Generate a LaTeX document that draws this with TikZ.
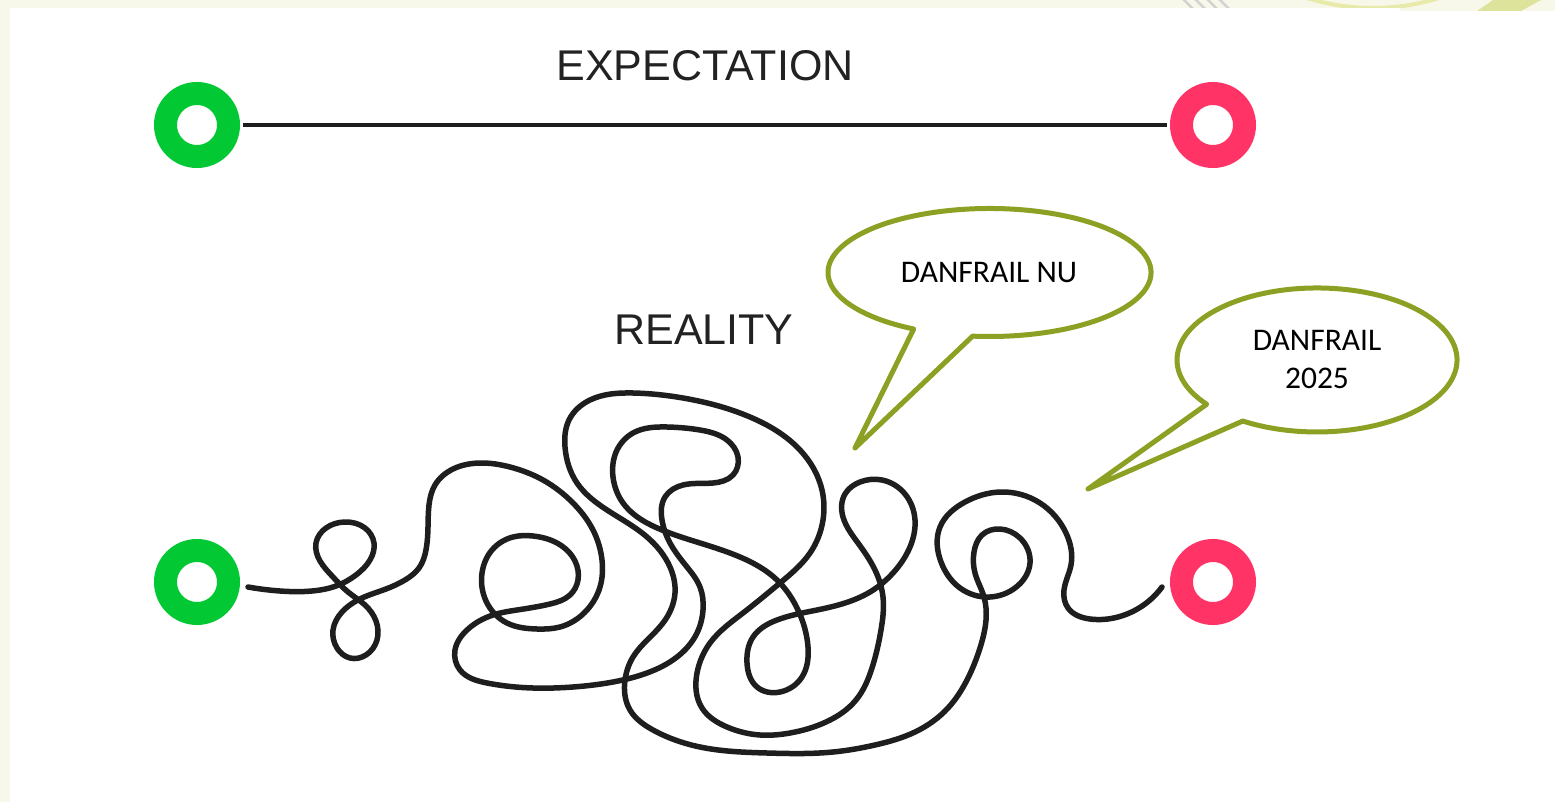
\documentclass[tikz,border=0pt]{standalone}
\usepackage{fontspec}
\usetikzlibrary{hobby}
\newfontfamily\arialf{Liberation Sans}
\newfontfamily\calibf{Carlito}
\definecolor{cream}{RGB}{247,248,234}
\definecolor{deco}{RGB}{231,234,168}
\definecolor{ringgreen}{RGB}{2,201,51}
\definecolor{ringpink}{RGB}{255,51,102}
\definecolor{inkline}{RGB}{30,30,30}
\definecolor{olive}{RGB}{140,161,36}
\definecolor{titlegray}{RGB}{34,34,34}
\begin{document}
\begin{tikzpicture}[x=1pt,y=-1pt,
  ringnode/.style={circle,draw=#1,line width=23pt,minimum size=63pt,inner sep=0pt,fill=white},
  titletext/.style={font=\arialf\fontsize{43}{43}\selectfont,text=titlegray,inner sep=0pt},
  bubbletext/.style={font=\calibf\fontsize{31.5}{38}\selectfont,text=black,inner sep=0pt,align=center},
  bubble/.style={draw=olive,line width=5pt,fill=white,line join=round},
  tangle/.style={draw=inkline,line width=5.5pt,line cap=round,line join=round}]
\useasboundingbox (0,0) rectangle (1555,802);
\fill[cream] (0,0) rectangle (1555,802);
% faint decorations in the top band
\begin{scope}
\clip (0,0) rectangle (1555,12);
\draw[deco,line width=4pt] (1373,-213) circle[radius=221];
\fill[deco!90!olive] (1477,11) -- (1493,0) -- (1541,0) -- (1521,11) -- cycle;
\foreach \k in {0,1,2,3}{\draw[gray!35,line width=2.5pt] (1182+12*\k,-2) -- (1194+12*\k,10);}
\end{scope}
\fill[white] (10,8) rectangle (1400,802);
\fill[white] (1400,11) rectangle (1555,802);
% expectation
\node[titletext] (exp) at (705,66) {EXPECTATION};
\node[ringnode=ringgreen] (s1) at (197,125) {};
\node[ringnode=ringpink] (e1) at (1213,125) {};
\draw[inkline,line width=4.5pt,shorten <=3pt,shorten >=3pt] (s1) -- (e1);
% reality
\node[titletext] (real) at (704,330) {REALITY};
\node[ringnode=ringgreen] (s2) at (197,582) {};
\node[ringnode=ringpink] (e2) at (1213,582) {};
\draw[tangle,use Hobby shortcut]
(248,587) .. (280,591) .. (312,591) .. (336,586) .. (356,575) .. (370,560) .. (374,543) .. (365,528) .. (345,522) .. (326,528) .. (316,543) .. (320,561) .. (333,577) .. (348,592) .. (365,605) .. (376,621) .. (377,640) .. (366,655) .. (350,658) .. (337,648) .. (333,630) .. (342,612) .. (362,598) .. (386,589) .. (405,580) .. (419,568) .. (426,550) .. (428,527) .. (429,505) .. (435,485) .. (453,469) .. (480,463) ..
(510,467) .. (543,480) .. (573,503) .. (593,530) .. (602,560) .. (600,587) .. (587,610) .. (560,627) .. (537,629) .. (507,623) .. (486,601) .. (482,573) .. (492,550) .. (513,537) .. (533,536) .. (557,543) .. (575,561) .. (578,580) .. (570,595) .. (550,604) .. (517,610) .. (493,615) .. (467,630) .. (455,650) .. (460,670) .. (487,683) .. (533,688) .. (573,687) .. (613,682) .. (647,673) .. (677,657) .. (697,633) .. (703,610) .. (700,587) .. (687,567) .. (670,543) .. (662,520) .. (665,497) .. (683,485) .. (713,483) .. (733,475) .. (738,457) .. (727,440) .. (700,430) .. (667,427) .. (633,433) .. (617,450) .. (613,477) .. (623,503) .. (647,523) .. (667,532) .. (700,543) .. (740,557) .. (777,580) .. (798,610) .. (808,647) .. (802,677) .. (780,692) .. (757,687) .. (747,663) .. (753,637) .. (777,620) ..
(817,610) .. (845,603) .. (870,592) .. (893,573) .. (910,547) .. (915,520) .. (905,494) .. (882,480) .. (860,482) .. (845,494) .. (843,517) .. (858,543) .. (875,570) .. (883,597) .. (881,630) .. (872,668) .. (856,700) .. (826,722) .. (790,733) .. (760,735) .. (727,727) .. (702,708) .. (697,673) .. (710,643) .. (743,613) .. (780,583) .. (810,553) .. (823,520) .. (822,490) .. (800,450) .. (750,417) .. (683,398) .. (633,393) .. (590,400) .. (569,420) .. (565,447) .. (577,483) .. (607,510) .. (647,537) .. (670,567) .. (675,593) .. (663,623) .. (633,657) .. (625,680) .. (630,710) .. (653,730) .. (700,747) .. (767,753) .. (833,752) .. (875,745) .. (915,732) .. (948,708) .. (967,680) .. (980,648) .. (986,620) .. (984,597) .. (975,573) .. (974,552) .. (982,535) .. (1000,529) .. (1020,538) .. (1030,563) .. (1015,588) .. (990,597) .. (960,588) .. (941,562) .. (940,527) .. (965,502) .. (1000,492) .. (1040,503) .. (1066,533) .. (1071,565) .. (1064,590) .. (1068,608) .. (1090,619) .. (1118,617) .. (1162,587);
% bubbles
\draw[bubble] (913.7,329) arc[start angle=118,end angle=456,x radius=161.5,y radius=64] -- (855,448) -- cycle;
\node[bubbletext] (b1) at (989,273) {DANFRAIL NU};
\draw[bubble] (1206.7,404.3) arc[start angle=142,end angle=482,x radius=140,y radius=72] -- (1088,489) -- cycle;
\node[bubbletext] (b2) at (1317,360) {DANFRAIL\\2025};
\end{tikzpicture}
\end{document}
